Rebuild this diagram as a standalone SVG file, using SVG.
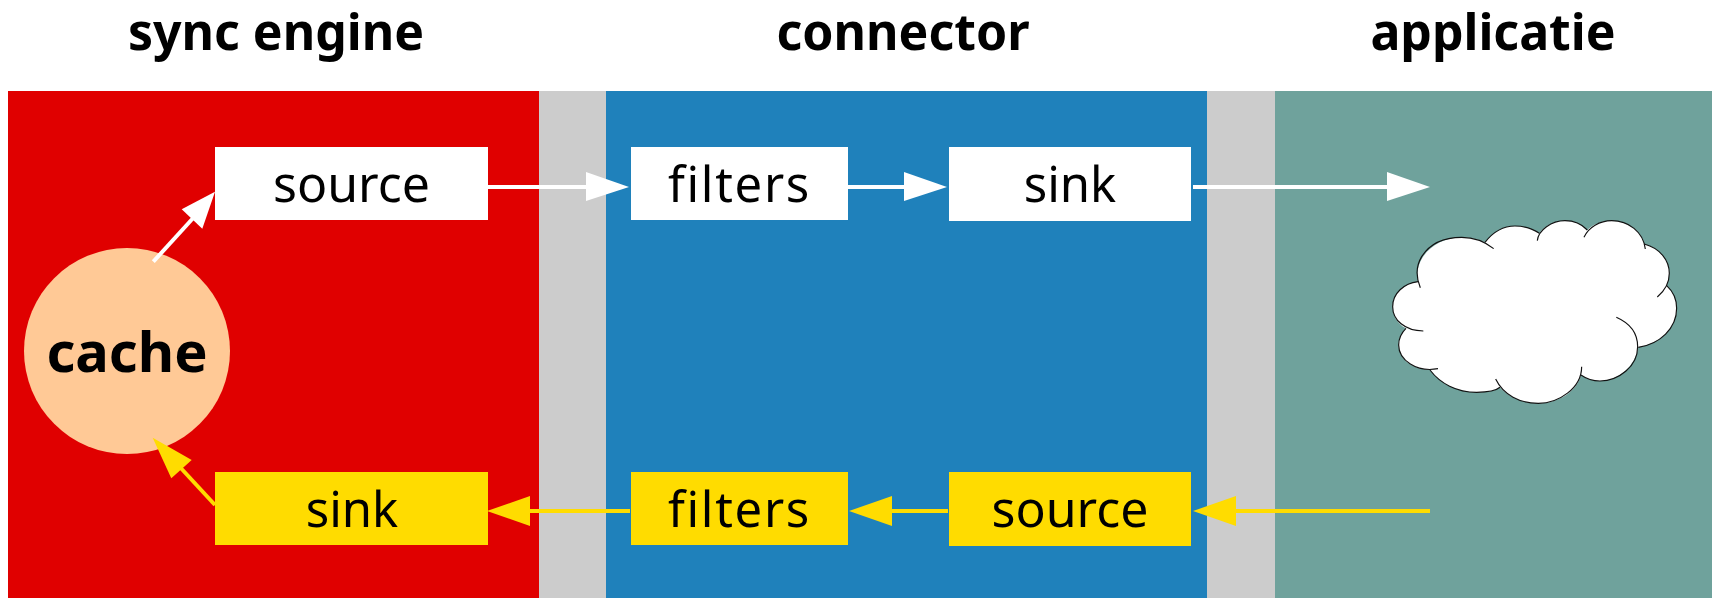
<svg xmlns="http://www.w3.org/2000/svg" width="1712" height="598" viewBox="0 0 1712 598">
<style>
text{font-family:"Noto Sans","Open Sans","DejaVu Sans",sans-serif;text-anchor:middle;fill:#000}
.t{font-size:50px;font-weight:700}
.l{font-size:49px}
.s{font-size:50px}
.f{font-size:49px;letter-spacing:1.7px}
.w{fill:#fff}.y{fill:#ffdc00}
.cw{stroke:#fff;stroke-width:4;fill:none}.cy{stroke:#ffdc00;stroke-width:4;fill:none}
.hw{fill:#fff}.hy{fill:#ffdc00}
</style>
<rect width="1712" height="598" fill="#fff"/>
<g id="panels">
<rect x="8" y="91" width="531" height="507" fill="#e00000"/>
<rect x="539" y="91" width="67" height="507" fill="#cccccc"/>
<rect x="606" y="91" width="601" height="507" fill="#1f81bb"/>
<rect x="1207" y="91" width="68" height="507" fill="#cccccc"/>
<rect x="1275" y="91" width="437" height="507" fill="#6fa29c"/>
</g>
<g id="titles">
<text class="t" x="276" y="50">sync engine</text>
<text class="t" x="903" y="50">connector</text>
<text class="t" x="1493" y="50">applicatie</text>
</g>
<g id="cache"><circle cx="127" cy="351" r="103" fill="#ffc996"/><text x="127" y="372" font-size="56" font-weight="700">cache</text></g>
<g id="source-top"><rect class="w" x="215" y="147" width="273" height="73"/><text class="s" x="351.500" y="202">source</text></g>
<g id="filters-top"><rect class="w" x="631" y="147" width="217" height="73"/><text class="f" x="739.500" y="202">filters</text></g>
<g id="sink-top"><rect class="w" x="949" y="147" width="242" height="74"/><text class="l" x="1070" y="202">sink</text></g>
<g id="sink-bottom"><rect class="y" x="215" y="472" width="273" height="73"/><text class="l" x="352" y="527">sink</text></g>
<g id="filters-bottom"><rect class="y" x="631" y="472" width="217" height="73"/><text class="f" x="739.500" y="527">filters</text></g>
<g id="source-bottom"><rect class="y" x="949" y="472" width="242" height="74"/><text class="s" x="1070" y="527">source</text></g>
<g id="cloud" transform="translate(1380 200) scale(.3333)">
<path fill="#fff" d="M114 245C100 170 170 112 245 112C270 112 295 118 315 127C340 95 370 78 405 78C430 78 458 86 478 100C495 75 525 62 555 62C580 62 605 72 622 90C640 72 665 62 695 62C745 62 785 95 793 132C840 145 868 180 868 220C868 232 865 245 860 257C880 275 890 300 890 325C890 385 840 432 775 442C765 500 715 543 660 543C640 543 620 537 603 525C590 575 535 610 475 610C425 610 385 592 360 562C345 575 320 577 290 577C230 577 180 550 150 510C100 508 56 480 56 435C56 415 65 398 78 385C50 370 38 345 38 320C38 280 72 250 114 245Z"/>
<g fill="none" stroke="#111" stroke-width="3.500">
<path d="M121 263C105 225 110 195 125 170C150 130 195 112 245 112C285 112 315 125 341 146"/>
<path d="M315 127C340 95 370 78 405 78C430 78 458 86 478 100"/>
<path d="M472 122C475 90 515 62 555 62C580 62 605 72 622 90"/>
<path d="M612 112C625 82 660 62 695 62C745 62 790 95 796 147"/>
<path d="M793 132C840 145 868 180 868 220C868 250 855 272 832 291"/>
<path d="M860 257C880 275 890 300 890 325C890 385 840 432 775 442"/>
<path d="M709 352C750 370 773 400 773 440C773 500 715 543 660 543C640 543 620 537 603 525"/>
<path d="M605 500C605 565 535 610 475 610C420 610 370 585 347 537"/>
<path d="M360 562C345 575 320 577 290 577C230 577 180 550 150 510"/>
<path d="M174 506C110 518 56 480 56 435C56 415 65 398 78 385"/>
<path d="M130 393C75 393 38 360 38 320C38 280 72 250 114 245"/>
</g>
</g>
<g id="connectors">
<path class="cw" d="M488 187H590"/><polygon class="hw" points="629,187 586,172 586,201"/>
<path class="cw" d="M848 187H908"/><polygon class="hw" points="947,187 904,172 904,201"/>
<path class="cw" d="M1193 187H1391"/><polygon class="hw" points="1430,187 1387,172 1387,201"/>
<path class="cw" d="M153.300 261.700L195 216"/><polygon class="hw" points="215,191.700 181.700,209.300 202.300,228.700"/>
<path class="cy" d="M630 511H527"/><polygon class="hy" points="487,511 530,496 530,526"/>
<path class="cy" d="M948 511H888"/><polygon class="hy" points="849,511 892,496 892,526"/>
<path class="cy" d="M1430 511H1232"/><polygon class="hy" points="1193,511 1236,496 1236,526"/>
<path class="cy" d="M215 505L178 465"/><polygon class="hy" points="152.700,437.700 191.700,460 171.300,478.300"/>
</g>
</svg>
